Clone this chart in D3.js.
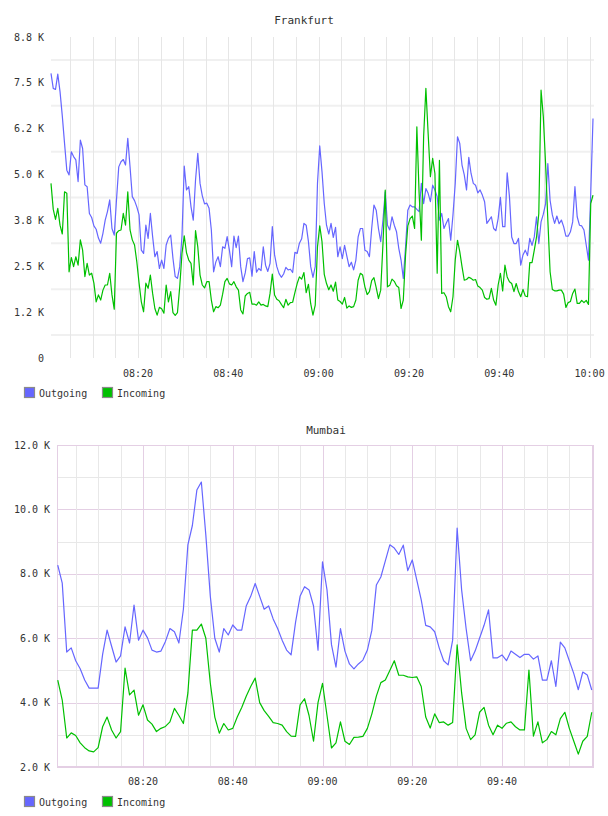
<!DOCTYPE html>
<html>
<head>
<meta charset="utf-8">
<script src="https://cdn.jsdelivr.net/npm/d3@7"></script>
<style>
  body { margin: 0; background: #fff; }
  svg { display: block; }
  text { font-family: "DejaVu Sans Mono", monospace; fill: #333; }
</style>
</head>
<body>
<div id="chart"></div>
<script>
var parseTime = d3.timeParse("%H:%M:%S");

var seriesNames = ["Outgoing", "Incoming"];
var seriesColors = ["#6666ff", "#00c000"];

// Frankfurt: one sample every 30 s, values in K
var fraStart = "08:00:45";
var fraEnd = "10:00:45";
var fraStep = 30;
var fraOutgoing = [
  7.76, 7.35, 7.32, 7.74, 7.26, 6.60, 5.85, 5.12, 4.99, 5.62,
  5.49, 5.40, 4.81, 5.94, 5.71, 4.72, 4.67, 3.94, 3.83, 3.60,
  3.51, 3.27, 3.13, 3.40, 3.76, 3.99, 4.31, 3.53, 3.35, 4.31,
  5.21, 5.35, 5.41, 5.26, 5.99, 5.21, 4.40, 4.29, 4.12, 3.90,
  2.94, 2.85, 3.62, 3.26, 3.94, 3.31, 2.76, 2.90, 2.44, 2.67,
  2.44, 3.08, 3.26, 3.35, 2.72, 2.22, 2.17, 2.49, 3.31, 5.23,
  4.58, 4.67, 4.12, 3.76, 4.85, 5.58, 4.76, 4.42, 4.20, 4.22,
  4.08, 3.49, 2.35, 2.62, 2.76, 2.49, 3.03, 2.99, 3.31, 2.94,
  2.49,
  3.32, 3.01, 3.32, 2.49, 2.08, 2.32, 2.71, 2.73, 2.23, 2.90,
  2.34, 2.44, 2.38, 3.03, 2.53, 2.36, 2.58, 3.58, 2.81, 2.49,
  2.30, 2.20, 2.29, 2.47, 2.40, 2.42, 2.33, 2.88, 2.85, 3.13,
  3.25, 3.67, 3.62, 3.17, 2.49, 2.20, 2.49, 4.76, 5.78, 5.08,
  4.21, 3.62, 3.38, 3.67, 3.29, 3.56, 2.76, 3.03, 2.71, 3.07,
  2.78, 2.49, 2.61, 2.40, 2.67, 3.30, 3.53, 3.53, 2.94, 2.90,
  2.76, 3.53, 4.17, 4.03, 3.53, 3.17, 3.76, 4.53, 3.62, 3.49,
  3.85, 3.62, 3.44, 2.99, 2.67, 2.17, 3.03, 4.03, 4.17, 4.12,
  4.12, 4.05, 3.99, 4.76, 4.21, 4.62, 4.49, 4.26, 4.71, 4.58,
  4.40, 3.76, 3.94, 3.53, 3.67, 3.80, 3.21, 3.90, 4.76, 6.03,
  5.85, 5.26, 4.99, 4.58, 5.47, 5.03, 4.76, 4.71, 4.50, 4.58,
  4.44, 4.26, 3.67, 3.76, 3.85, 3.53, 3.47, 3.80, 4.38, 3.58,
  3.58, 5.05, 4.40, 3.30, 3.12, 3.12, 3.26, 2.53, 2.81, 2.94,
  2.79, 3.26, 3.07, 3.30, 3.85, 3.12, 3.71, 3.92, 4.20, 5.30,
  4.30, 3.90, 3.67, 3.87, 3.66, 3.76, 3.58, 3.32, 3.32, 3.44,
  3.71, 4.67, 3.85, 3.62, 3.60, 3.49, 3.08, 2.67, 4.49, 6.53
];
var fraIncoming = [
  4.76, 4.05, 3.78, 4.08, 3.62, 3.38, 4.53, 4.49, 2.35, 2.74,
  2.49, 2.76, 2.53, 3.22, 2.94, 2.22, 2.58, 2.26, 2.31, 2.04,
  1.53, 1.72, 1.58, 1.85, 1.99, 1.99, 2.31, 1.72, 1.33, 3.40,
  3.47, 3.49, 3.94, 3.62, 4.53, 3.49, 3.22, 3.08, 2.62, 2.04,
  1.53, 1.26, 2.04, 1.90, 2.26, 1.76, 1.35, 1.17, 1.38, 1.34,
  1.22, 1.99, 1.53, 1.81, 1.24, 1.16, 1.24, 1.94, 2.85, 3.33,
  2.87, 2.67, 2.58, 1.99, 3.47, 3.03, 2.26, 1.99, 1.91, 2.08,
  2.08, 1.58, 1.26, 1.40, 1.37, 1.44, 1.74, 2.08, 2.17, 2.02,
  1.99,
  2.08, 1.94, 1.85, 1.31, 1.20, 1.69, 1.76, 1.79, 1.47, 1.47,
  1.44, 1.53, 1.44, 1.46, 1.42, 1.40, 1.76, 2.29, 1.72, 1.60,
  1.56, 1.46, 1.37, 1.60, 1.44, 1.51, 1.52, 1.78, 2.03, 2.21,
  2.15, 2.33, 1.78, 2.01, 1.48, 1.17, 1.44, 3.03, 3.60, 3.17,
  2.28, 2.03, 1.86, 1.99, 1.82, 2.07, 1.58, 1.54, 1.47, 1.65,
  1.36, 1.42, 1.38, 1.40, 1.58, 2.12, 2.31, 2.26, 1.94, 1.73,
  1.81, 2.11, 2.19, 1.92, 1.62, 1.85, 3.12, 4.58, 1.94, 1.98,
  2.15, 2.09, 1.97, 1.92, 1.35, 1.58, 2.81, 3.60, 3.80, 3.87,
  3.53, 6.30, 4.49, 3.21, 6.03, 7.35, 6.12, 4.94, 5.44, 5.03,
  2.31, 5.39, 1.76, 1.78, 1.67, 1.40, 1.26, 1.67, 2.67, 3.21,
  2.90, 2.49, 2.12, 2.14, 2.20, 2.17, 2.12, 2.14, 1.96, 1.92,
  1.85, 1.65, 1.60, 1.62, 1.90, 1.58, 1.44, 1.99, 2.31, 1.83,
  2.53, 2.21, 2.08, 2.03, 1.81, 2.03, 1.81, 1.67, 1.87, 1.69,
  1.67, 2.60, 2.60, 2.94, 3.30, 3.94, 7.30, 6.58, 5.30, 3.76,
  2.35, 1.87, 1.83, 1.83, 1.85, 1.85, 1.74, 1.38, 1.51, 1.54,
  1.76, 1.88, 1.49, 1.49, 1.57, 1.51, 1.57, 1.46, 4.21, 4.44
];
var fraTicks = [0, 1.25, 2.5, 3.75, 5, 6.25, 7.5, 8.75];
var fraTickLabels = ["0", "1.2 K", "2.5 K", "3.8 K", "5.0 K", "6.2 K", "7.5 K", "8.8 K"];
var fraGrid = [0.625, 1.875, 3.125, 4.375, 5.625, 6.875, 8.125];
var fraTimeLabels = ["08:20", "08:40", "09:00", "09:20", "09:40", "10:00"];

// Mumbai: one sample per minute from 08:01, values in K
var mumFrom = "08:00:50";
var mumTo = "10:00:30";
var mumStart = "08:01:00";
var mumStep = 60;
var mumOutgoing = [
  8.27, 7.71, 5.57, 5.70, 5.30, 5.05, 4.70, 4.45, 4.45, 4.45,
  5.50, 6.25, 5.75, 5.26, 5.45, 6.35, 5.85, 7.03, 5.94, 6.25,
  6.01, 5.63, 5.57, 5.60, 5.90, 6.30, 6.20, 5.85, 6.90, 8.90,
  9.50, 10.60, 10.85, 9.20, 7.30, 6.00, 5.57, 6.30, 6.10, 6.41,
  6.25, 6.25, 7.00, 7.30, 7.70, 7.30, 6.90, 7.00, 6.60, 6.30,
  5.94, 5.63, 5.48, 6.50, 7.30, 7.60, 7.50, 7.00, 5.63, 8.37,
  7.50, 5.80, 5.10, 6.30, 5.60, 5.20, 5.05, 5.20, 5.32, 5.63,
  6.25, 7.65, 7.90, 8.40, 8.90, 8.80, 8.60, 8.89, 8.10, 8.43,
  7.81, 7.19, 6.40, 6.35, 6.20, 5.70, 5.30, 5.17, 5.94, 9.42,
  7.50, 6.30, 5.30, 5.60, 6.00, 6.40, 6.88, 5.39, 5.39, 5.48,
  5.30, 5.60, 5.50, 5.40, 5.50, 5.50, 5.35, 5.45, 4.70, 4.70,
  5.30, 4.50, 5.88, 5.70, 5.30, 4.90, 4.40, 4.95, 4.86, 4.39
];
var mumIncoming = [
  4.70, 4.08, 2.90, 3.06, 2.98, 2.75, 2.60, 2.50, 2.47, 2.60,
  3.25, 3.55, 3.15, 2.90, 3.10, 5.07, 4.24, 4.39, 3.61, 3.93,
  3.46, 3.33, 3.10, 3.20, 3.26, 3.40, 3.82, 3.60, 3.35, 4.30,
  6.25, 6.25, 6.44, 6.00, 4.60, 3.55, 3.05, 3.35, 3.15, 3.20,
  3.55, 3.85, 4.20, 4.50, 4.76, 4.00, 3.75, 3.57, 3.38, 3.35,
  3.30, 3.10, 2.96, 2.95, 3.93, 4.12, 3.60, 2.80, 4.00, 4.60,
  3.60, 2.59, 2.75, 3.40, 2.80, 2.70, 2.92, 2.93, 2.95, 3.20,
  3.65, 4.20, 4.62, 4.70, 5.00, 5.30, 4.85, 4.85, 4.80, 4.78,
  4.80, 4.50, 3.55, 3.21, 3.65, 3.38, 3.40, 3.30, 3.38, 5.79,
  4.30, 3.20, 2.85, 3.00, 3.70, 3.85, 3.30, 3.00, 3.30, 3.20,
  3.36, 3.40, 3.25, 3.15, 3.15, 5.01, 2.96, 3.40, 2.75, 2.85,
  3.10, 3.00, 3.50, 3.70, 3.20, 2.80, 2.40, 2.80, 2.95, 3.70
];
var mumTicks = [2, 4, 6, 8, 10, 12];
var mumTickLabels = ["2.0 K", "4.0 K", "6.0 K", "8.0 K", "10.0 K", "12.0 K"];
var mumMinorGrid = [3, 5, 7, 9, 11];
var mumTimeLabels = ["08:20", "08:40", "09:00", "09:20", "09:40"];

var svg = d3.select("#chart").append("svg")
    .attr("width", 608)
    .attr("height", 816);

function timeSeries(values, start, stepSec) {
  var t0 = parseTime(start);
  return values.map(function(v, i) { return { t: d3.timeSecond.offset(t0, i * stepSec), v: v }; });
}

function drawLines(g, x, y, series) {
  var line = d3.line()
      .x(function(d) { return x(d.t); })
      .y(function(d) { return y(d.v); });
  series.forEach(function(s, i) {
    g.append("path")
        .datum(s)
        .attr("fill", "none")
        .attr("stroke", seriesColors[i])
        .attr("stroke-width", 1.2)
        .attr("stroke-linejoin", "round")
        .attr("d", line);
  });
}

function drawLegend(g, top) {
  var item = g.append("g").selectAll("g")
    .data(seriesNames)
    .enter().append("g")
      .attr("transform", function(d, i) { return "translate(" + (24 + i * 78) + "," + top + ")"; });
  item.append("rect")
      .attr("x", 0.5).attr("y", 0.5)
      .attr("width", 10).attr("height", 10)
      .attr("fill", function(d, i) { return seriesColors[i]; })
      .attr("stroke", "#8a8a8a")
      .attr("stroke-width", 1.2);
  item.append("text")
      .attr("x", 15).attr("y", 9.5)
      .style("font-size", "10px")
      .text(function(d) { return d; });
}

// ---------- Frankfurt ----------
(function() {
  var x = d3.scaleTime().domain([parseTime(fraStart), parseTime(fraEnd)]).range([51, 593]);
  var y = d3.scaleLinear().domain([0, 8.75]).range([358, 37]);
  var g = svg.append("g");

  g.append("text")
      .attr("x", 304).attr("y", 24)
      .attr("text-anchor", "middle")
      .style("font-size", "11px")
      .text("Frankfurt");

  g.append("g").selectAll("line")
    .data(fraGrid)
    .enter().append("line")
      .attr("x1", 51).attr("x2", 594)
      .attr("y1", function(d) { return y(d); })
      .attr("y2", function(d) { return y(d); })
      .attr("stroke", "#f0f0f0")
      .attr("stroke-width", 2);

  g.append("g").selectAll("line")
    .data(x.ticks(d3.timeMinute.every(5)))
    .enter().append("line")
      .attr("x1", function(d) { return Math.round(x(d)) + 0.5; })
      .attr("x2", function(d) { return Math.round(x(d)) + 0.5; })
      .attr("y1", 37).attr("y2", 358)
      .attr("stroke", "#e6e6e6");

  g.append("g").selectAll("text")
    .data(fraTicks)
    .enter().append("text")
      .attr("x", 44)
      .attr("y", function(d) { return y(d); })
      .attr("dy", "0.35em")
      .attr("text-anchor", "end")
      .style("font-size", "10px")
      .text(function(d, i) { return fraTickLabels[i]; });

  g.append("g").selectAll("text")
    .data(fraTimeLabels)
    .enter().append("text")
      .attr("x", function(d) { return x(parseTime(d + ":00")); })
      .attr("y", 377)
      .attr("text-anchor", "middle")
      .style("font-size", "10px")
      .text(function(d) { return d; });

  drawLines(g, x, y, [timeSeries(fraOutgoing, fraStart, fraStep), timeSeries(fraIncoming, fraStart, fraStep)]);
  drawLegend(g, 387);
})();

// ---------- Mumbai ----------
(function() {
  var x = d3.scaleTime().domain([parseTime(mumFrom), parseTime(mumTo)]).range([57, 594]);
  var y = d3.scaleLinear().domain([2, 12]).range([767, 445]);
  var g = svg.append("g");

  g.append("text")
      .attr("x", 326).attr("y", 434)
      .attr("text-anchor", "middle")
      .style("font-size", "11px")
      .text("Mumbai");

  g.append("g").selectAll("line")
    .data(mumMinorGrid)
    .enter().append("line")
      .attr("x1", 57).attr("x2", 594)
      .attr("y1", function(d) { return Math.round(y(d)) + 0.5; })
      .attr("y2", function(d) { return Math.round(y(d)) + 0.5; })
      .attr("stroke", "#e8e8e8");

  g.append("g").selectAll("line")
    .data(mumTicks)
    .enter().append("line")
      .attr("x1", 57).attr("x2", 594)
      .attr("y1", function(d) { return Math.round(y(d)) + 0.5; })
      .attr("y2", function(d) { return Math.round(y(d)) + 0.5; })
      .attr("stroke", "#e4cfe4");

  g.append("g").selectAll("line")
    .data(x.ticks(d3.timeMinute.every(5)))
    .enter().append("line")
      .attr("x1", function(d) { return Math.round(x(d)) + 0.5; })
      .attr("x2", function(d) { return Math.round(x(d)) + 0.5; })
      .attr("y1", 445).attr("y2", 767)
      .attr("stroke", function(d) { return d.getMinutes() % 20 == 0 ? "#e4cfe4" : "#e8e8e8"; });

  g.append("rect")
      .attr("x", 57.5).attr("y", 445.5)
      .attr("width", 536).attr("height", 321)
      .attr("fill", "none")
      .attr("stroke", "#e4cfe4");

  g.append("g").selectAll("text")
    .data(mumTicks)
    .enter().append("text")
      .attr("x", 50)
      .attr("y", function(d) { return y(d); })
      .attr("dy", "0.35em")
      .attr("text-anchor", "end")
      .style("font-size", "10px")
      .text(function(d, i) { return mumTickLabels[i]; });

  g.append("g").selectAll("text")
    .data(mumTimeLabels)
    .enter().append("text")
      .attr("x", function(d) { return x(parseTime(d + ":00")); })
      .attr("y", 785)
      .attr("text-anchor", "middle")
      .style("font-size", "10px")
      .text(function(d) { return d; });

  drawLines(g, x, y, [timeSeries(mumOutgoing, mumStart, mumStep), timeSeries(mumIncoming, mumStart, mumStep)]);
  drawLegend(g, 796);
})();
</script>
</body>
</html>
